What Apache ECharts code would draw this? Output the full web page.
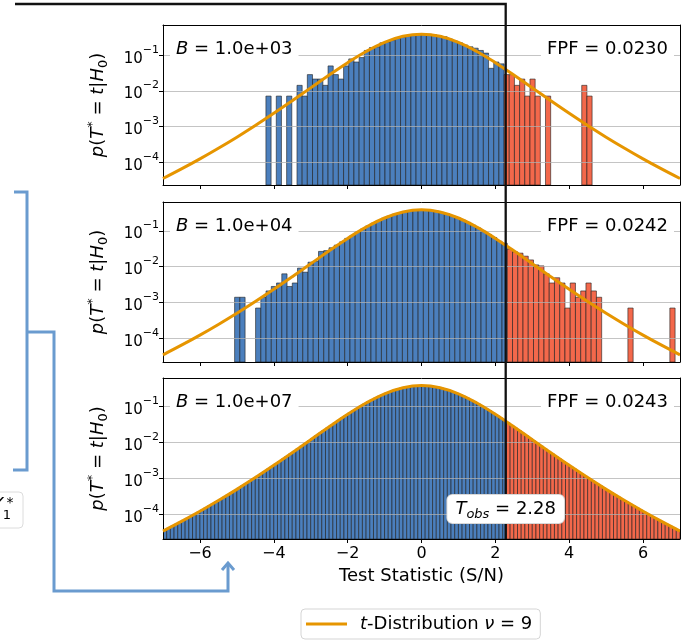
<!DOCTYPE html>
<html>
<head>
<meta charset="utf-8">
<script src="https://cdn.jsdelivr.net/npm/echarts@6/dist/echarts.min.js"></script>
<style>
html,body{margin:0;padding:0;background:#fff;}
#chart{width:692px;height:643px;}
</style>
</head>
<body>
<div id="chart"></div>
<script>
// ---- data ----
var bLabels = ['1.0e+03', '1.0e+04', '1.0e+07'];
var bootN = [1e3, 1e4, 1e7];
var fpf = ['0.0230', '0.0242', '0.0243'];
var tObs = 2.28;

// B = 1e3 : counts per bin
var start1 = -4.213, width1 = 0.1402;
var counts1 = [1,0,1,0,1,0,2,1,4,3, 3,2,7,4,3,7,11,9,12,19, 23,24,31,33,36,41,44,49,52,55,
  55,54,52,49,46,40,35,31,27,24, 22,19,16,6,9,8,4,4,2,3, 1,3,1,0,1,0,0,0,0,0, 0,2,1];

// B = 1e4 : counts per bin
var start2 = -5.061, width2 = 0.142;
var counts2 = [2,2,0,0,1,2,3,4,5,9, 4,5,13,10,19,20,38,40,48,57, 70,88,106,133,160,196,233,278,320,366,
  414,455,495,522,545,552,546,531,503,467, 427,379,335,287,246,205,171,139,113,93,
  73,64,44,37,34,28,22,16,15,9, 5,7,5,1,5,2,3,5,3,2, 0,0,0,0,0,1,0,0,0,0, 0,0,0,1];

// B = 1e7 : density per bin
var start3 = -7.0, width3 = 0.1;
var dens3 = [0.0000371,0.0000419,0.0000474,0.0000537,0.0000608,0.0000691,0.0000785,0.0000894,0.000102,0.000116,
  0.000133,0.000152,0.000174,0.0002,0.000229,0.000264,0.000304,0.000351,0.000405,0.000469,
  0.000543,0.00063,0.000731,0.000851,0.000991,0.001156,0.00135,0.001579,0.001848,0.002166,
  0.002542,0.002986,0.003512,0.004134,0.00487,0.005742,0.006773,0.007993,0.009445,0.01115,
  0.01318,0.01557,0.01838,0.0217,0.02559,0.03015,0.03547,0.04166,0.04884,0.0571,
  0.06662,0.07745,0.0897,0.1035,0.1189,0.1358,0.1543,0.1743,0.1955,0.2177,
  0.2406,0.2638,0.2866,0.3086,0.3289,0.3472,0.3627,0.3748,0.3832,0.3875,
  0.3875,0.3832,0.3748,0.3627,0.3472,0.3289,0.3086,0.2866,0.2638,0.2406,
  0.2177,0.1955,0.1743,0.1543,0.1358,0.1189,0.1035,0.0897,0.07745,0.06662,
  0.0571,0.04884,0.04166,0.03547,0.03015,0.02559,0.0217,0.01838,0.01557,0.01318,
  0.01115,0.009445,0.007993,0.006773,0.005742,0.00487,0.004134,0.003512,0.002986,0.002542,
  0.002166,0.001848,0.001579,0.00135,0.001156,0.000991,0.000851,0.000731,0.00063,0.000543,
  0.000469,0.000405,0.000351,0.000304,0.000264,0.000229,0.0002,0.000174,0.000152,0.000133,
  0.000116,0.000102,0.0000894,0.0000785,0.0000691,0.0000608,0.0000537,0.0000474,0.0000419,0.0000371];

// t-distribution curve (nu = 9)
var curveX = [-7,-6.5,-6,-5.5,-5,-4.5,-4,-3.5,-3,-2.5,-2,-1.5,-1,-0.5,0,0.5,1,1.5,2,2.5,3,3.5,4,4.5,5,5.5,6,6.5,7];
var curveY = [3.49e-5,6.48e-5,1.24e-4,2.46e-4,5.04e-4,1.07e-3,2.35e-3,5.29e-3,1.21e-2,2.78e-2,6.17e-2,0.127,0.229,0.338,0.388,
  0.338,0.229,0.127,6.17e-2,2.78e-2,1.21e-2,5.29e-3,2.35e-3,1.07e-3,5.04e-4,2.46e-4,1.24e-4,6.48e-5,3.49e-5];

var xTicks = [-6,-4,-2,0,2,4,6];
var yTicks = [1e-4,1e-3,1e-2,1e-1];
var yMin = [2.3e-5, 2.2e-5, 2.1e-5];
var yMax = [0.7, 0.64, 0.63];

// ---- style ----
var FONT = 'DejaVu Sans';
var BLUE = '#4b7fbd', RED = '#f3684b', ORANGE = '#e69500', BRACKET = '#6a9bcf';
var gridTop = [25, 202, 378], gridH = [160, 160, 161];

var chart = echarts.init(document.getElementById('chart'));

function histData(start, w, vals, isCount, b) {
  var out = [];
  for (var i = 0; i < vals.length; i++) {
    if (!vals[i]) continue;
    var x0 = start + i * w, x1 = x0 + w;
    var d = isCount ? vals[i] / (b * w) : vals[i];
    out.push([x0, x1, d, (x0 + x1) / 2 >= tObs ? 1 : 0]);
  }
  return out;
}

var hist = [
  histData(start1, width1, counts1, true, bootN[0]),
  histData(start2, width2, counts2, true, bootN[1]),
  histData(start3, width3, dens3, false, bootN[2])
];

function fmtX(v) { return v < 0 ? '\u2212' + (-v) : '' + v; }
function fmtY(v) { var e = Math.round(Math.log10(v)); return '{b|10}{s|\u2212' + (-e) + '}'; }

var grids = [], xAxes = [], yAxes = [], series = [];
for (var k = 0; k < 3; k++) {
  grids.push({left: 163, right: 12, top: gridTop[k], height: gridH[k], outerBoundsMode: 'none', show: false});
  xAxes.push({
    type: 'value', gridIndex: k, min: -7, max: 7, z: 3,
    axisLine: {show: true, onZero: false, lineStyle: {color: '#000', width: 1}},
    axisTick: {show: true, length: 4, customValues: xTicks, lineStyle: {color: '#000', width: 1}},
    axisLabel: {show: k === 2, customValues: xTicks, margin: 7, fontSize: 16, color: '#000', fontFamily: FONT, formatter: fmtX},
    splitLine: {show: false},
    name: k === 2 ? 'Test Statistic (S/N)' : '', nameLocation: 'middle', nameGap: 28,
    nameTextStyle: {fontSize: 18, color: '#000', fontFamily: FONT}
  });
  yAxes.push({
    type: 'log', logBase: 10, gridIndex: k, min: yMin[k], max: yMax[k], z: 3,
    axisLine: {show: true, onZero: false, lineStyle: {color: '#000', width: 1}},
    axisTick: {show: true, length: 4, customValues: yTicks, lineStyle: {color: '#000', width: 1}},
    axisLabel: {
      customValues: yTicks, margin: 4, formatter: fmtY, color: '#000',
      rich: {
        b: {fontSize: 15, fontFamily: FONT, color: '#000', lineHeight: 22, verticalAlign: 'bottom'},
        s: {fontSize: 11, fontFamily: FONT, color: '#000', lineHeight: 14, verticalAlign: 'top'}
      }
    },
    splitLine: {show: true, lineStyle: {color: 'rgba(176,176,176,0.75)', width: 1}},
    name: '{i|p}{r|(}{i|T}{s|*}{r| = }{i|t}{r||}{i|H}{d|0}{r|)}',
    nameLocation: 'middle', nameGap: 53,
    nameTextStyle: {
      rich: {
        i: {fontSize: 18, fontStyle: 'italic', fontFamily: FONT, color: '#000', lineHeight: 24},
        r: {fontSize: 18, fontFamily: FONT, color: '#000', lineHeight: 24},
        s: {fontSize: 13, fontFamily: FONT, color: '#000', lineHeight: 14, verticalAlign: 'top'},
        d: {fontSize: 13, fontFamily: FONT, color: '#000', lineHeight: 14, verticalAlign: 'bottom'}
      }
    }
  });
}
// frame: top and right spines drawn above the bars
for (var k2 = 0; k2 < 3; k2++) {
  xAxes.push({type: 'value', gridIndex: k2, position: 'top', min: -7, max: 7, z: 5,
    axisLine: {show: true, onZero: false, lineStyle: {color: '#000', width: 1}},
    axisTick: {show: false}, axisLabel: {show: false}, splitLine: {show: false}});
  yAxes.push({type: 'value', gridIndex: k2, position: 'right', min: 0, max: 1, z: 5,
    axisLine: {show: true, onZero: false, lineStyle: {color: '#000', width: 1}},
    axisTick: {show: false}, axisLabel: {show: false}, splitLine: {show: false}});
}

function histSeries(k) {
  return {
    type: 'custom', xAxisIndex: k, yAxisIndex: k, z: 2, clip: true, silent: true,
    encode: {x: [0, 1], y: 2},
    data: hist[k],
    renderItem: function (params, api) {
      var p0 = api.coord([api.value(0), api.value(2)]);
      var p1 = api.coord([api.value(1), yMin[k]]);
      return {
        type: 'rect',
        shape: {x: p0[0], y: p0[1], width: p1[0] - p0[0], height: p1[1] - p0[1]},
        style: {fill: api.value(3) ? RED : BLUE, stroke: '#1e1e1e', lineWidth: 0.6}
      };
    }
  };
}

var curveData = curveX.map(function (x, i) { return [x, curveY[i]]; });
for (var k3 = 0; k3 < 3; k3++) {
  series.push(histSeries(k3));
  series.push({
    type: 'line', name: 'tdist', xAxisIndex: k3, yAxisIndex: k3, data: curveData,
    smooth: 0.4, symbol: 'none', showSymbol: false, z: 4, silent: true,
    lineStyle: {color: ORANGE, width: 3}, itemStyle: {color: ORANGE}
  });
}

chart.setOption({
  animation: false,
  textStyle: {fontFamily: FONT},
  grid: grids, xAxis: xAxes, yAxis: yAxes, series: series,
  legend: {
    data: ['tdist'], left: 301, top: 609, padding: [6, 8, 6, 5], icon: 'rect', itemWidth: 41, itemHeight: 3,
    borderColor: '#d5d5d5', borderWidth: 1, borderRadius: 4, backgroundColor: '#fff', selectedMode: false,
    formatter: function () { return '{i|t}-Distribution {i|\u03bd} = 9'; },
    textStyle: {fontSize: 18, fontFamily: FONT, color: '#000', padding: [0, 0, 0, 8],
      rich: {i: {fontSize: 18, fontStyle: 'italic', fontFamily: FONT, color: '#000'}}}
  }
});

// annotations positioned from the axes
var px = chart.convertToPixel({xAxisIndex: 0}, tObs);
var bottom3 = gridTop[2] + gridH[2];
var g = [];
var txtRich = {
  i: {fontSize: 18, fontStyle: 'italic', fontFamily: FONT, fill: '#000', lineHeight: 24},
  r: {fontSize: 18, fontFamily: FONT, fill: '#000', lineHeight: 24},
  u: {fontSize: 13, fontStyle: 'italic', fontFamily: FONT, fill: '#000', lineHeight: 14, verticalAlign: 'bottom'}
};
for (var k4 = 0; k4 < 3; k4++) {
  var cy = gridTop[k4] + 24;
  g.push({type: 'text', x: 170, y: cy, z: 20,
    style: {text: '{i|B}{r| = ' + bLabels[k4] + '}', rich: txtRich, align: 'left', verticalAlign: 'middle',
      backgroundColor: '#fff', padding: [1, 6]}});
  g.push({type: 'text', x: 674, y: cy, z: 20,
    style: {text: '{r|FPF = ' + fpf[k4] + '}', rich: txtRich, align: 'right', verticalAlign: 'middle',
      backgroundColor: '#fff', padding: [1, 6]}});
}
g.push({type: 'polyline', z: 15, shape: {points: [[15, 4], [px, 4], [px, bottom3]]},
  style: {stroke: '#111', lineWidth: 2.3, fill: null}});
g.push({type: 'text', x: px, y: 509, z: 21,
  style: {text: '{i|T}{u|obs}{r| = ' + tObs.toFixed(2) + '}', rich: txtRich, align: 'center', verticalAlign: 'middle',
    backgroundColor: '#fff', borderColor: '#d8d8d8', borderWidth: 1, borderRadius: 5, padding: [2, 8]}});
// blue brackets / arrow on the left
g.push({type: 'polyline', z: 10, shape: {points: [[14, 192], [27, 192], [27, 470], [13, 470]]},
  style: {stroke: BRACKET, lineWidth: 3, fill: null}});
g.push({type: 'polyline', z: 10, shape: {points: [[27, 332], [54, 332], [54, 591], [228, 591], [228, 565]]},
  style: {stroke: BRACKET, lineWidth: 3, fill: null}});
g.push({type: 'polyline', z: 10, shape: {points: [[222, 570], [228, 563], [234, 570]]},
  style: {stroke: BRACKET, lineWidth: 3, fill: null}});
// cut-off label box at the left edge
g.push({type: 'rect', z: 10, shape: {x: -40, y: 492, width: 63, height: 36, r: 4},
  style: {fill: '#fff', stroke: '#dcdcdc', lineWidth: 1}});
g.push({type: 'text', z: 11, x: 10, y: 503,
  style: {text: '*', font: '14px DejaVu Sans', fill: '#000', align: 'center', verticalAlign: 'middle'}});
g.push({type: 'text', z: 11, x: 7, y: 516,
  style: {text: '1', font: '13px DejaVu Sans', fill: '#000', align: 'center', verticalAlign: 'middle'}});
g.push({type: 'text', z: 11, x: 3, y: 505,
  style: {text: 'Y', font: 'italic 18px DejaVu Sans', fill: '#000', align: 'right', verticalAlign: 'middle'}});

chart.setOption({graphic: g});
</script>
</body>
</html>
